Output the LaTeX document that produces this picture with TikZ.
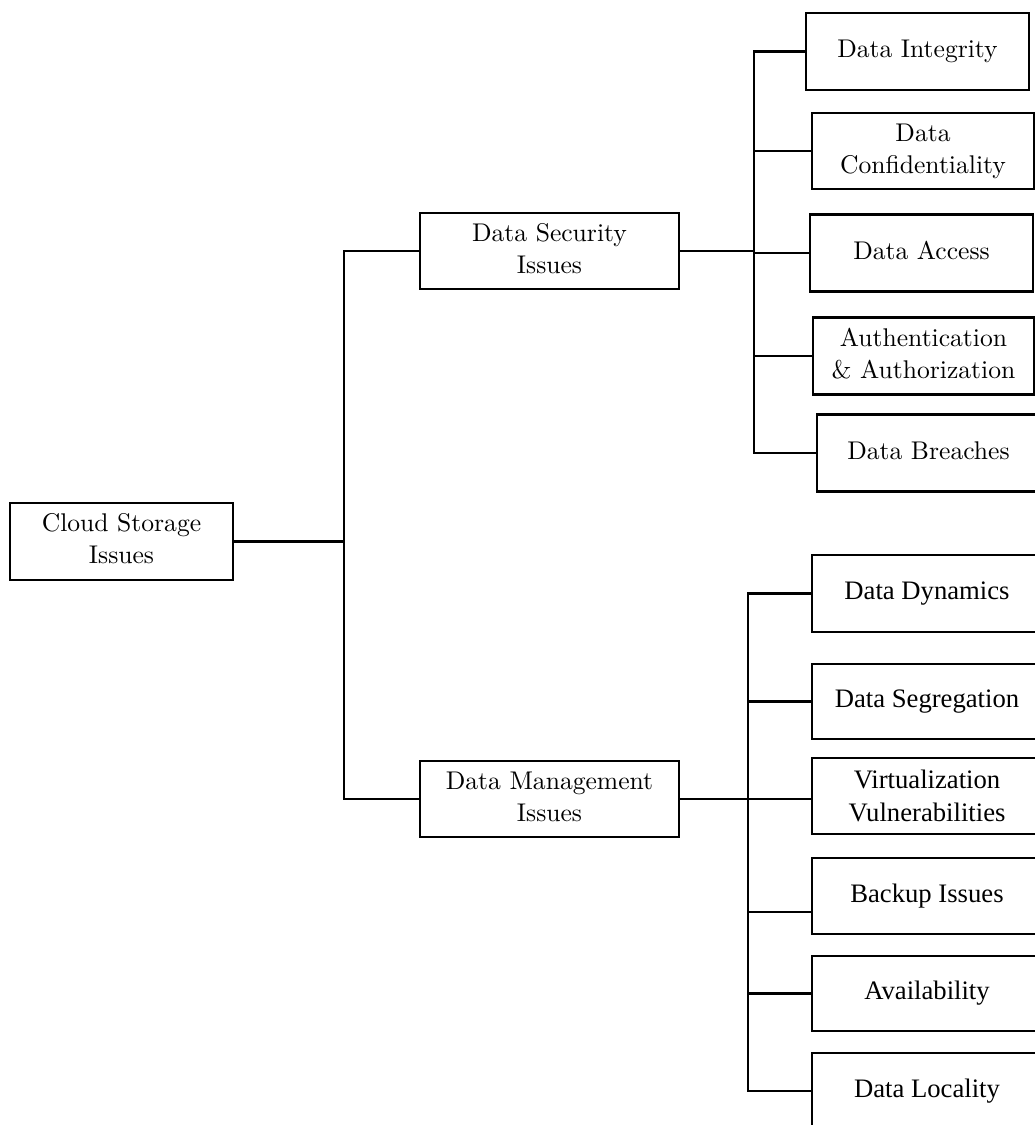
\documentclass[tikz,border=0pt]{standalone}
\usepackage{fontspec}
\usepackage{graphicx}
\newfontfamily\tnr{Liberation Serif}
\newcommand{\gtxt}[1]{\raisebox{-2pt}{\scalebox{1.92}{\fontsize{10}{12.5}\selectfont\begin{tabular}{@{}c@{}}#1\end{tabular}}}}
\begin{document}
\begin{tikzpicture}[x=0.75pt,y=-0.75pt,
  boxbase/.style={draw=black, line width=1.9pt, rectangle, inner sep=0pt, align=center, fill=white},
  gbox/.style 2 args={boxbase, minimum width=#1*0.75pt, minimum height=#2*0.75pt},
  tbox/.style 2 args={boxbase, minimum width=#1*0.75pt, minimum height=#2*0.75pt, font=\tnr\fontsize{20}{25}\selectfont},
  conn/.style={draw=black, line width=1.8pt, line cap=rect}]
\fill[white] (0,0) rectangle (1035,1125);
\path[use as bounding box, clip] (0,0) rectangle (1035,1125);

% bus coordinates
\coordinate (lbus) at (344,0);
\coordinate (ubus) at (754,0);
\coordinate (dbus) at (748,0);
\coordinate (bic) at (748,912);

\node[gbox={223}{77}] (cloud) at (121.5,541.5) {\gtxt{Cloud Storage\\Issues}};
\node[gbox={259}{76}] (dsec) at (549.5,251) {\gtxt{Data Security\\Issues}};
\node[gbox={259}{76}] (dman) at (549.5,799) {\gtxt{Data Management\\Issues}};

\node[gbox={223}{77}] (di) at (917.5,51.5) {\gtxt{Data Integrity}};
\node[gbox={222}{76}] (dc) at (923,151) {\gtxt{Data\\Confidentiality}};
\node[gbox={223}{77}] (da) at (921.5,253) {\gtxt{Data Access}};
\node[gbox={221}{77}] (aa) at (923.5,356) {\gtxt{Authentication\\\& Authorization}};
\node[gbox={223}{77}] (db) at (928.5,453) {\gtxt{Data Breaches}};

\node[tbox={230}{77}] (dd) at (927,593.5) {Data Dynamics};
\node[tbox={230}{75}] (dsg) at (927,701.5) {Data Segregation};
\node[tbox={230}{76}] (vv) at (927,796) {Virtualization\\Vulnerabilities};
\node[tbox={230}{76}] (bi) at (927,896) {Backup Issues};
\node[tbox={230}{75}] (av) at (927,993.5) {Availability};
\node[tbox={230}{76}] (dl) at (927,1091) {Data Locality};

% left tree
\draw[conn] (cloud.east) -- (cloud.east -| lbus);
\draw[conn] (dsec.west) -- (dsec.west -| lbus) -- (dman.west -| lbus) -- (dman.west);

% upper branch
\draw[conn] (dsec.east) -- (dsec.east -| ubus);
\draw[conn] (di.west) -- (di.west -| ubus) -- (db.west -| ubus) -- (db.west);
\draw[conn] (dc.west -| ubus) -- (dc.west);
\draw[conn] (da.west -| ubus) -- (da.west);
\draw[conn] (aa.west -| ubus) -- (aa.west);

% lower branch
\draw[conn] (dman.east) -- (dman.east -| dbus);
\draw[conn] (dd.west) -- (dd.west -| dbus) -- (dl.west -| dbus) -- (dl.west);
\draw[conn] (dsg.west -| dbus) -- (dsg.west);
\draw[conn] (dman.east -| dbus) -- (dman.east -| vv.west);
\draw[conn] (bic) -- (bic -| bi.west);
\draw[conn] (av.west -| dbus) -- (av.west);
\end{tikzpicture}
\end{document}
